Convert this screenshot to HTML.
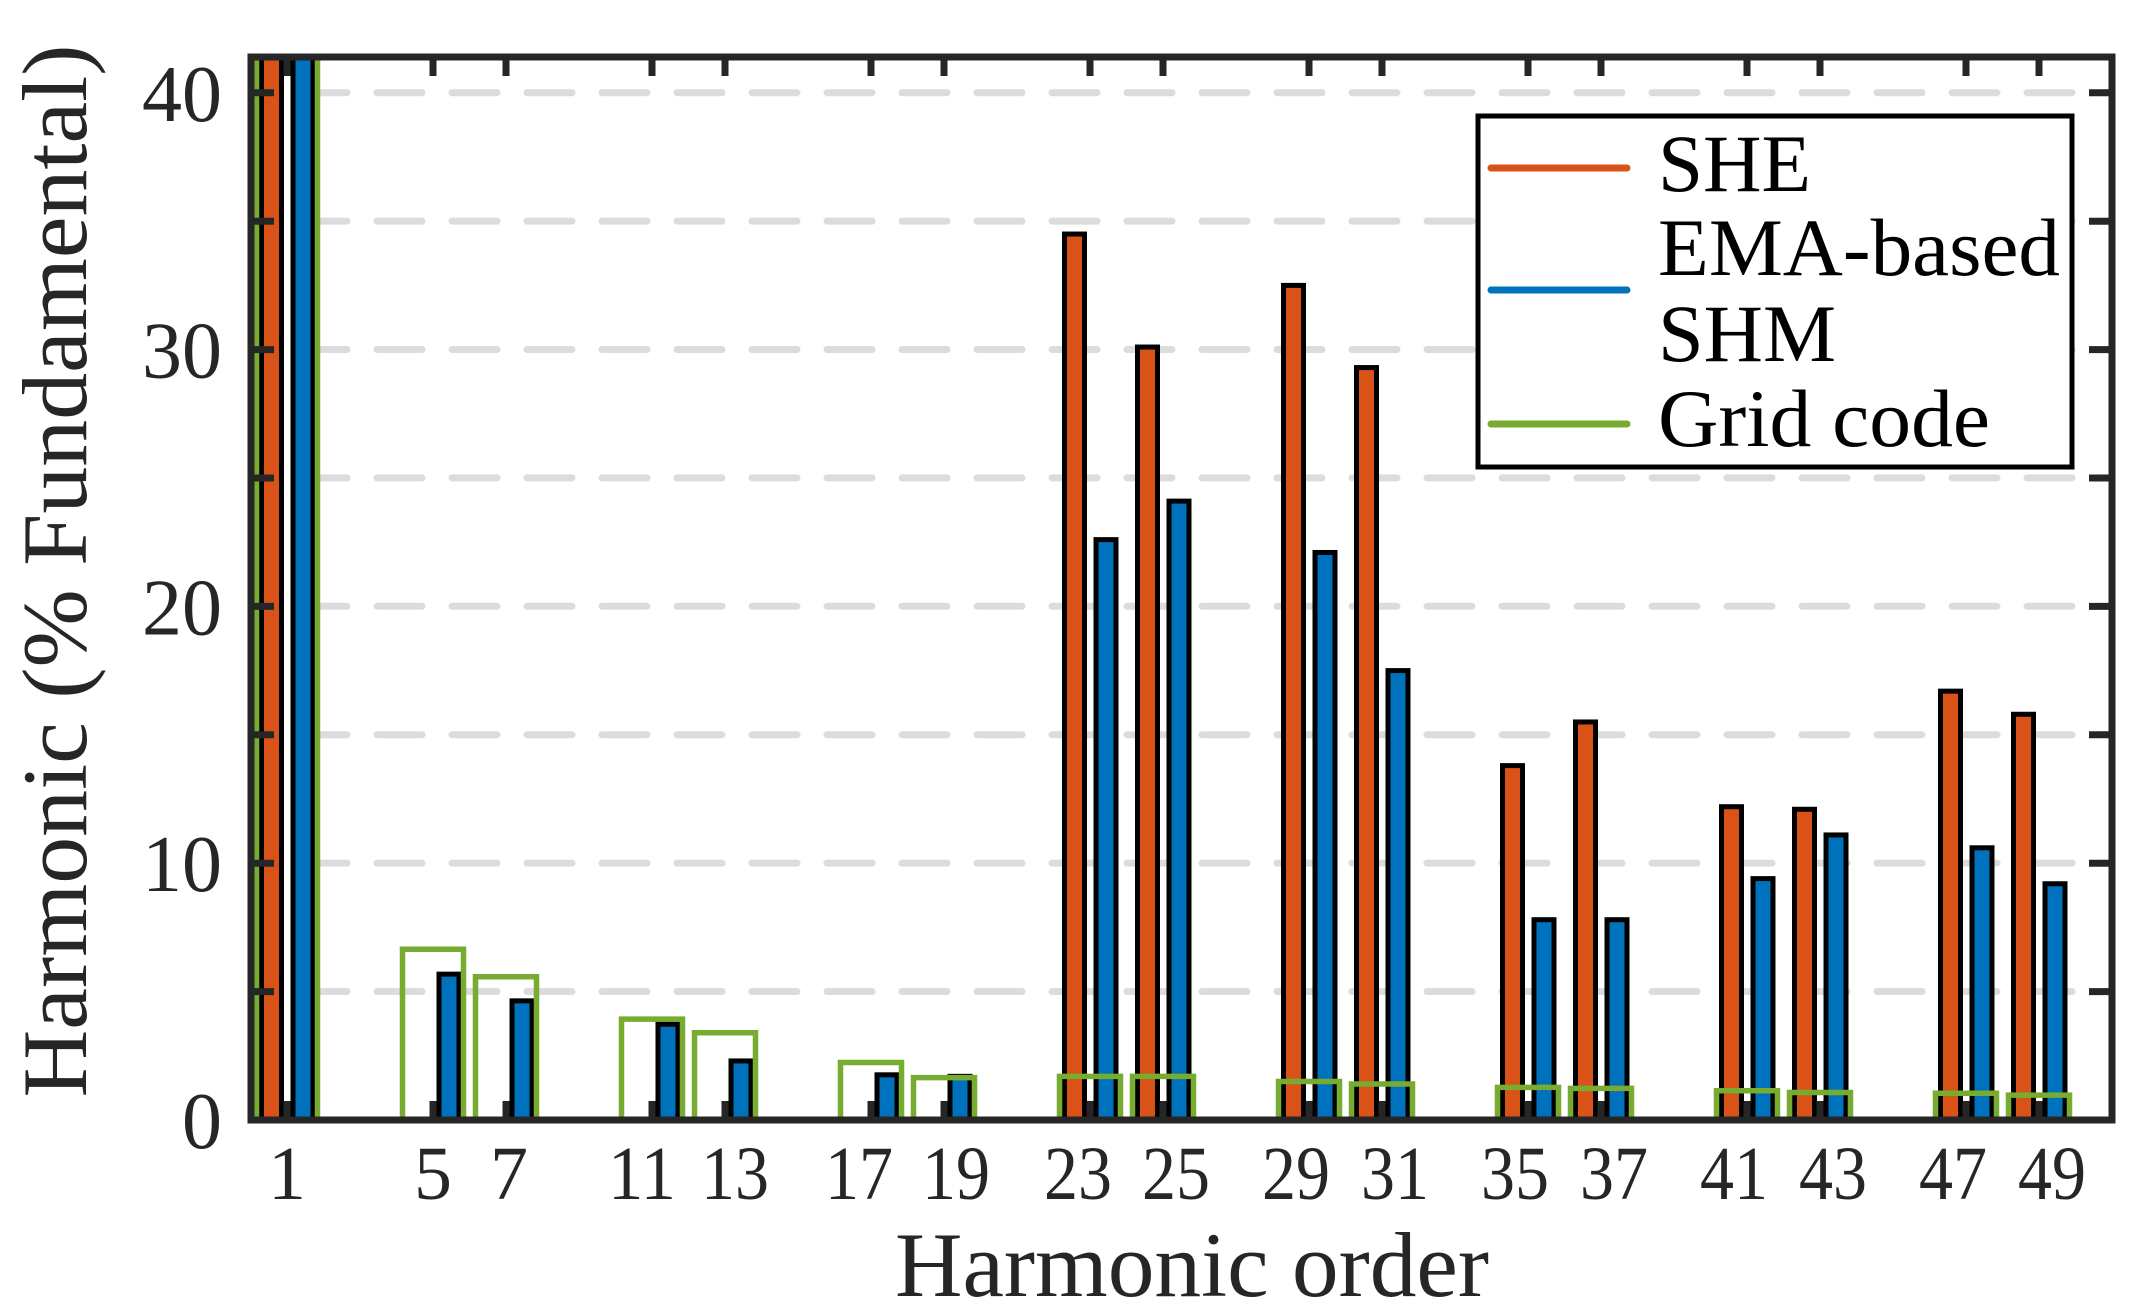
<!DOCTYPE html>
<html><head><meta charset="utf-8"><style>
html,body{margin:0;padding:0;background:#fff}
svg{display:block}
text{font-family:"Liberation Serif",serif;fill:#262626}
</style></head><body>
<svg width="2147" height="1307" viewBox="0 0 2147 1307" xmlns="http://www.w3.org/2000/svg">
<g id="grid" stroke="#dcdcdc" stroke-width="7" stroke-dasharray="45 30" stroke-dashoffset="28" stroke-linecap="round">
<line x1="255" x2="2108" y1="92.7" y2="92.7"/>
<line x1="255" x2="2108" y1="221.1" y2="221.1"/>
<line x1="255" x2="2108" y1="349.5" y2="349.5"/>
<line x1="255" x2="2108" y1="477.9" y2="477.9"/>
<line x1="255" x2="2108" y1="606.3" y2="606.3"/>
<line x1="255" x2="2108" y1="734.7" y2="734.7"/>
<line x1="255" x2="2108" y1="863.1" y2="863.1"/>
<line x1="255" x2="2108" y1="991.5" y2="991.5"/>
</g>
<g id="bars"></g>
<g id="ticks"></g>
<rect x="251" y="57" width="1861" height="1063" fill="none" stroke="#262626" stroke-width="7"/>
<g id="ylab" font-size="80" text-anchor="end"></g>
<g id="xlab" font-size="76" text-anchor="middle"></g>
<text x="1192" y="1296" font-size="92" text-anchor="middle" textLength="594" lengthAdjust="spacingAndGlyphs">Harmonic order</text>
<text transform="translate(86,571) rotate(-90)" font-size="92" text-anchor="middle" textLength="1053" lengthAdjust="spacingAndGlyphs">Harmonic (% Fundamental)</text>
<rect x="1478" y="116" width="594" height="351" fill="#fff" stroke="#000" stroke-width="5"/>
<line x1="1491" x2="1627" y1="168" y2="168" stroke="#D95319" stroke-width="7" stroke-linecap="round"/>
<line x1="1491" x2="1627" y1="290" y2="290" stroke="#0072BD" stroke-width="7" stroke-linecap="round"/>
<line x1="1491" x2="1627" y1="424" y2="424" stroke="#77AC30" stroke-width="7" stroke-linecap="round"/>
<g font-size="82">
<text x="1658" y="191" style="fill:#000" textLength="153" lengthAdjust="spacingAndGlyphs">SHE</text>
<text x="1658" y="275" style="fill:#000" textLength="402" lengthAdjust="spacingAndGlyphs">EMA-based</text>
<text x="1658" y="361" style="fill:#000" textLength="178" lengthAdjust="spacingAndGlyphs">SHM</text>
<text x="1658" y="446" style="fill:#000" textLength="332" lengthAdjust="spacingAndGlyphs">Grid code</text>
</g>
</svg>
<script>
(function(){
var NS="http://www.w3.org/2000/svg";
function el(p,t,a){var e=document.createElementNS(NS,t);for(var k in a)e.setAttribute(k,a[k]);p.appendChild(e);return e;}
var X=function(h){return 250.5+36.5*h;};
var Y=function(v){return 1120-25.68*v;};
var data=[[1,100,100,100,0],[5,0,5.68,6.65,0],[7,0,4.64,5.58,3],[11,0,3.73,3.93,-10],[13,0,2.3,3.4,10],[17,0,1.76,2.24,-12],[19,0,1.7,1.65,12],
[23,34.5,22.6,1.7,-12],[25,30.1,24.1,1.7,13],[29,32.5,22.1,1.5,-13],[31,29.3,17.5,1.4,13],[35,13.8,7.8,1.27,-13],[37,15.5,7.8,1.23,13],
[41,12.2,9.4,1.14,-13],[43,12.1,11.1,1.07,13],[47,16.7,10.6,1.04,-13],[49,15.8,9.2,0.97,13]];
var b=document.getElementById('bars');
var clip=el(b,'clipPath',{id:'c'});el(clip,'rect',{x:254,y:60,width:1855,height:1060});
var g=el(b,'g',{'clip-path':'url(#c)'});
data.forEach(function(d){
 var cx=X(d[0]);
 if(d[1]>0){var y=Y(d[1]);el(g,'rect',{x:cx-25.5,y:y,width:20,height:1120-y,fill:'#D95319',stroke:'#000','stroke-width':5});}
 var y2=Y(d[2]);el(g,'rect',{x:cx+6,y:y2,width:20,height:1120-y2,fill:'#0072BD',stroke:'#000','stroke-width':5});
});
data.forEach(function(d){
 var cx=X(d[0]);
 var gy=Y(d[3]);
 el(g,'path',{d:'M'+(cx-30.5)+' 1120 V'+gy+' H'+(cx+30.5)+' V1120',fill:'none',stroke:'#77AC30','stroke-width':5.5});
});
var t=document.getElementById('ticks');
var xl=document.getElementById('xlab');
data.forEach(function(d){
 var cx=X(d[0]);
 el(t,'line',{x1:cx,x2:cx,y1:1120,y2:1101,stroke:'#262626','stroke-width':7});
 el(t,'line',{x1:cx,x2:cx,y1:57,y2:76,stroke:'#262626','stroke-width':7});
 var s=String(d[0]);
 var a={x:cx+d[4],y:1199};
 if(s.length==2){a.textLength=68;a.lengthAdjust='spacingAndGlyphs';}
 var tx=el(xl,'text',a);tx.textContent=s;
});
var yl=document.getElementById('ylab');
for(var v=0;v<=40;v+=5){
 var y=Y(v);
 el(t,'line',{x1:251,x2:274,y1:y,y2:y,stroke:'#262626','stroke-width':7});
 el(t,'line',{x1:2089,x2:2112,y1:y,y2:y,stroke:'#262626','stroke-width':7});
 if(v%10==0){var tt=el(yl,'text',{x:222,y:y+28});tt.textContent=String(v);}
}
})();
</script>
</body></html>
